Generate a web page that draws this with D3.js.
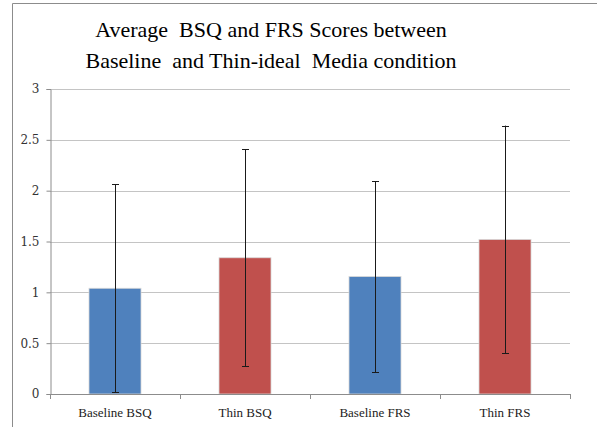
<!DOCTYPE html>
<html>
<head>
<meta charset="utf-8">
<script src="https://cdn.jsdelivr.net/npm/d3@7"></script>
<style>
  body { margin: 0; background: #fff; }
</style>
</head>
<body>
<div id="chart"></div>
<script>
var width = 597;
var height = 427;

var categories = ["Baseline BSQ", "Thin BSQ", "Baseline FRS", "Thin FRS"];
var means = [1.04, 1.34, 1.155, 1.52];
var errors = [1.025, 1.065, 0.94, 1.12];
var colors = ["#4F81BD", "#C0504D", "#4F81BD", "#C0504D"];
var yTicks = [0, 0.5, 1, 1.5, 2, 2.5, 3];
var titleLines = ["Average  BSQ and FRS Scores between", "Baseline  and Thin-ideal  Media condition"];

var margin = {left: 50, right: 27, top: 89, bottom: 33};
var serif = "Liberation Serif, Times New Roman, serif";

var svg = d3.select("#chart")
    .append("svg")
    .attr("width", width)
    .attr("height", height);

// outer chart frame (cropped on right and bottom)
svg.append("path")
    .attr("d", "M12.5," + height + "V3.5H" + width)
    .attr("fill", "none")
    .attr("stroke", "#8c8c8c")
    .attr("stroke-width", 1);

svg.append("g")
    .selectAll("text")
    .data(titleLines)
    .enter()
    .append("text")
        .attr("x", 271)
        .attr("y", (d, i) => 37 + i * 31)
        .attr("text-anchor", "middle")
        .attr("font-family", serif)
        .attr("font-size", 22)
        .attr("xml:space", "preserve")
        .style("white-space", "pre")
        .attr("fill", "#000")
        .text(d => d);

var x = d3.scaleBand()
    .domain(categories)
    .range([margin.left, width - margin.right])
    .paddingInner(0.6)
    .paddingOuter(0.3);

var y = d3.scaleLinear()
    .domain([0, 3])
    .range([height - margin.bottom, margin.top]);

// gridlines
svg.append("g")
    .selectAll("line")
    .data(yTicks.slice(1))
    .enter()
    .append("line")
        .attr("x1", margin.left)
        .attr("x2", width - margin.right)
        .attr("y1", d => Math.round(y(d)) + 0.5)
        .attr("y2", d => Math.round(y(d)) + 0.5)
        .attr("stroke", "#c4c4c4")
        .attr("stroke-width", 1);

// y axis
var yAxis = svg.append("g")
    .attr("transform", "translate(" + (margin.left + 0.5) + ",0)")
    .call(d3.axisLeft(y).tickValues(yTicks).tickSize(4).tickPadding(7).tickFormat(d3.format("")));
yAxis.select(".domain").attr("stroke", "#8c8c8c");
yAxis.selectAll(".tick line").attr("stroke", "#8c8c8c");
yAxis.selectAll("text")
    .attr("font-family", "DejaVu Serif, serif")
    .attr("font-size", 12)
    .attr("fill", "#333");

// bars
svg.append("g")
    .selectAll("rect")
    .data(categories)
    .enter()
    .append("rect")
        .attr("x", d => x(d))
        .attr("y", (d, i) => y(means[i]))
        .attr("width", x.bandwidth())
        .attr("height", (d, i) => y(0) - y(means[i]))
        .attr("fill", (d, i) => colors[i])
        .attr("stroke", "#d8d8d8")
        .attr("stroke-width", 0.8);

// error bars
var err = svg.append("g")
    .selectAll("g")
    .data(categories)
    .enter()
    .append("g");

err.append("line")
    .attr("x1", d => Math.round(x(d) + x.bandwidth() / 2) + 0.5)
    .attr("x2", d => Math.round(x(d) + x.bandwidth() / 2) + 0.5)
    .attr("y1", (d, i) => y(means[i] + errors[i]))
    .attr("y2", (d, i) => y(means[i] - errors[i]))
    .attr("stroke", "#1a1a1a")
    .attr("stroke-width", 1);

err.selectAll("line.cap")
    .data((d, i) => [[d, means[i] + errors[i]], [d, means[i] - errors[i]]])
    .enter()
    .append("line")
        .attr("class", "cap")
        .attr("x1", d => Math.round(x(d[0]) + x.bandwidth() / 2) - 3)
        .attr("x2", d => Math.round(x(d[0]) + x.bandwidth() / 2) + 4)
        .attr("y1", d => Math.round(y(d[1])) + 0.5)
        .attr("y2", d => Math.round(y(d[1])) + 0.5)
        .attr("stroke", "#1a1a1a")
        .attr("stroke-width", 1);

// x axis with ticks between categories
var xAxis = svg.append("g");
xAxis.append("line")
    .attr("x1", margin.left)
    .attr("x2", width - margin.right)
    .attr("y1", y(0) + 0.5)
    .attr("y2", y(0) + 0.5)
    .attr("stroke", "#8c8c8c");

xAxis.selectAll("line.tick")
    .data(d3.range(categories.length + 1))
    .enter()
    .append("line")
        .attr("class", "tick")
        .attr("x1", i => margin.left + i * x.step() + 0.5)
        .attr("x2", i => margin.left + i * x.step() + 0.5)
        .attr("y1", y(0))
        .attr("y2", y(0) + 5)
        .attr("stroke", "#8c8c8c");

xAxis.selectAll("text.label")
    .data(categories)
    .enter()
    .append("text")
        .attr("class", "label")
        .attr("x", d => x(d) + x.bandwidth() / 2)
        .attr("y", y(0) + 23)
        .attr("text-anchor", "middle")
        .attr("font-family", serif)
        .attr("font-size", 13)
        .attr("fill", "#222")
        .text(d => d);
</script>
</body>
</html>
